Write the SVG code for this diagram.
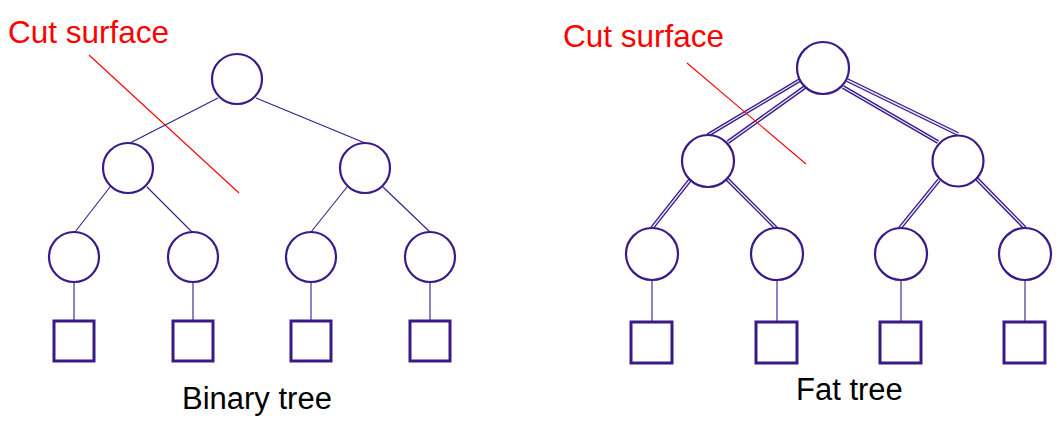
<svg xmlns="http://www.w3.org/2000/svg" width="1064" height="422" viewBox="0 0 1064 422">
<style>
.node{fill:#fff;stroke:#3a1a88;stroke-width:2.2}
.leaf{fill:#fff;stroke:#3a1a88;stroke-width:3}
.thin{stroke:#3a1a88;stroke-width:1.1;fill:none}
.fatO{stroke:#3a1a88;stroke-width:4;fill:none}
.fatI{stroke:#e6e2f2;stroke-width:1.4;fill:none}
.cut{stroke:#ff0000;stroke-width:1.1}
.lbl{font-family:"Liberation Sans",Arial,sans-serif;font-size:31px}
.red{fill:#ff0000;font-size:31.5px}
</style>
<rect width="1064" height="422" fill="#fff"/>
<g id="connectors">
  <line class="thin" x1="218" y1="98" x2="130" y2="143"/>
  <line class="thin" x1="256" y1="98" x2="365" y2="143"/>
  <line class="thin" x1="110" y1="187" x2="75" y2="232"/>
  <line class="thin" x1="147" y1="187" x2="192" y2="232"/>
  <line class="thin" x1="347" y1="187" x2="311" y2="232"/>
  <line class="thin" x1="383" y1="187" x2="430" y2="232"/>
  <line class="thin" x1="74" y1="282" x2="74" y2="321"/>
  <line class="thin" x1="193" y1="282" x2="193" y2="321"/>
  <line class="thin" x1="311" y1="282" x2="311" y2="321"/>
  <line class="thin" x1="430" y1="282" x2="430" y2="321"/>
  <g id="fat-links">
    <path class="fatO" d="M800 80L708 135M805 87L728 142M847 80L958 134M843 87L938 142M690 180L652 228M727 179L776 228M939 180L900 228M977 179L1025 228"/>
    <path class="fatI" d="M800 80L708 135M805 87L728 142M847 80L958 134M843 87L938 142M690 180L652 228M727 179L776 228M939 180L900 228M977 179L1025 228"/>
  </g>
  <line class="thin" x1="652" y1="280" x2="652" y2="322"/>
  <line class="thin" x1="777" y1="280" x2="777" y2="322"/>
  <line class="thin" x1="901" y1="280" x2="901" y2="322"/>
  <line class="thin" x1="1025" y1="280" x2="1025" y2="322"/>
</g>
<g id="b-root"><circle class="node" cx="237" cy="79" r="25"/></g>
<g id="b-l"><circle class="node" cx="128" cy="168" r="25"/></g>
<g id="b-r"><circle class="node" cx="365" cy="168" r="25"/></g>
<g id="b-ll"><circle class="node" cx="74" cy="257" r="25"/></g>
<g id="b-lr"><circle class="node" cx="193" cy="257" r="25"/></g>
<g id="b-rl"><circle class="node" cx="311" cy="257" r="25"/></g>
<g id="b-rr"><circle class="node" cx="430" cy="257" r="25"/></g>
<g id="b-p1"><rect class="leaf" x="54" y="321" width="40" height="40"/></g>
<g id="b-p2"><rect class="leaf" x="173" y="321" width="40" height="40"/></g>
<g id="b-p3"><rect class="leaf" x="291" y="321" width="40" height="40"/></g>
<g id="b-p4"><rect class="leaf" x="410" y="321" width="40" height="40"/></g>
<g id="f-root"><circle class="node" cx="823" cy="68" r="26"/></g>
<g id="f-l"><circle class="node" cx="708" cy="161" r="26"/></g>
<g id="f-r"><circle class="node" cx="958" cy="161" r="25.5"/></g>
<g id="f-ll"><circle class="node" cx="652" cy="254" r="26"/></g>
<g id="f-lr"><circle class="node" cx="777" cy="254" r="26"/></g>
<g id="f-rl"><circle class="node" cx="901" cy="254" r="26"/></g>
<g id="f-rr"><circle class="node" cx="1025" cy="254" r="26"/></g>
<g id="f-p1"><rect class="leaf" x="631" y="322" width="41" height="41"/></g>
<g id="f-p2"><rect class="leaf" x="756" y="322" width="41" height="41"/></g>
<g id="f-p3"><rect class="leaf" x="880" y="322" width="41" height="41"/></g>
<g id="f-p4"><rect class="leaf" x="1004" y="322" width="41" height="41"/></g>
<g id="cut-binary">
  <line class="cut" x1="89" y1="55" x2="239" y2="193"/>
  <text class="lbl red" x="8" y="43">Cut surface</text>
</g>
<g id="cut-fat">
  <line class="cut" x1="687" y1="63" x2="806" y2="164"/>
  <text class="lbl red" x="563" y="47">Cut surface</text>
</g>
<text class="lbl" x="182" y="409">Binary tree</text>
<text class="lbl" x="796" y="400">Fat tree</text>
</svg>
